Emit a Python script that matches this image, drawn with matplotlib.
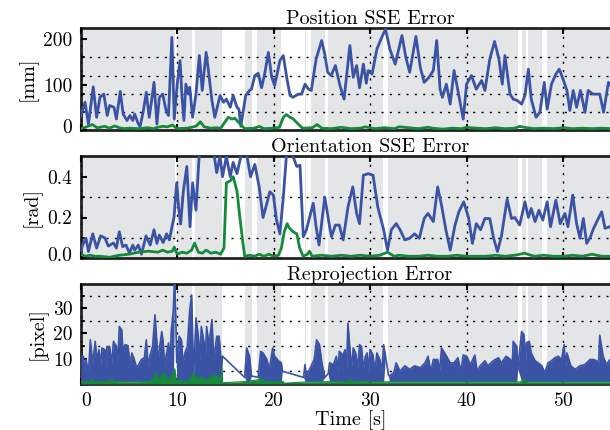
import matplotlib.pyplot as plt
from matplotlib.ticker import NullFormatter
from matplotlib.transforms import ScaledTranslation

plt.rcParams['font.family'] = 'cmr10'
plt.rcParams['mathtext.fontset'] = 'cm'
plt.rcParams['axes.formatter.use_mathtext'] = True

# ---- data ----
# tracked intervals shown as grey bands [s]
tracked = [(0.0, 9.77), (9.95, 11.5), (11.84, 14.6), (17.0, 17.8), (18.3, 20.8),
           (23.25, 23.4), (23.9, 25.3), (25.65, 31.36), (31.9, 45.3), (45.7, 46.2),
           (46.4, 47.8), (48.3, 56.0)]

# Position SSE error [mm]  (t, value)
pos_blue = [(0.0, 30), (0.45, 61), (0.8, 13), (1.3, 95), (1.65, 28), (2.0, 72), (2.4, 79),
            (2.75, 32), (3.0, 54), (3.45, 50), (3.7, 24), (4.1, 85), (4.4, 35), (4.8, 21),
            (5.1, 32), (5.4, 21), (5.6, 35), (5.9, 17), (6.15, 7), (6.5, 43), (6.8, 83),
            (7.1, 28), (7.35, 65), (7.6, 105), (7.9, 13), (8.15, 72), (8.5, 79), (8.85, 43),
            (9.1, 32), (9.45, 204), (9.7, 24), (10.0, 101), (10.3, 153), (10.5, 72),
            (10.7, 21), (10.9, 101), (11.15, 79), (11.3, 94), (11.6, 28), (11.95, 79),
            (12.3, 164), (12.6, 87), (13.0, 171), (13.2, 138), (13.6, 65), (13.9, 28),
            (14.45, 76), (14.8, 61), (15.1, 68), (15.5, 50), (15.8, 76), (16.2, 50),
            (16.4, 46), (16.6, 8), (17.1, 76), (17.5, 87), (17.7, 90), (18.05, 120),
            (18.4, 125), (18.75, 93), (19.1, 127), (19.45, 171), (19.8, 116), (20.1, 98),
            (20.65, 153), (21.0, 164), (21.35, 116), (21.7, 76), (22.0, 72), (22.55, 79),
            (22.9, 79), (23.25, 101), (23.6, 90), (23.9, 87), (24.4, 156), (24.97, 197),
            (25.3, 167), (25.6, 127), (25.96, 120), (26.4, 142), (26.87, 98), (27.3, 68),
            (27.9, 186), (28.25, 116), (28.6, 142), (28.9, 93), (29.3, 145), (29.6, 103),
            (29.8, 131), (30.2, 123), (30.7, 178), (31.2, 204), (31.6, 222), (32.05, 178),
            (32.6, 145), (33.3, 208), (33.7, 160), (34.1, 127), (34.75, 206), (35.2, 138),
            (35.6, 105), (36.1, 116), (36.55, 131), (36.9, 197), (37.25, 90), (37.5, 72),
            (37.9, 101), (38.3, 57), (38.7, 131), (39.1, 87), (39.65, 24), (40.0, 101),
            (40.5, 120), (41.0, 90), (41.55, 109), (41.9, 87), (42.4, 156), (42.9, 195),
            (43.35, 156), (43.7, 101), (43.97, 164), (44.5, 79), (44.83, 68), (45.25, 65),
            (45.7, 57), (46.05, 76), (46.4, 134), (46.7, 68), (47.2, 28), (47.6, 39),
            (48.05, 105), (48.35, 46), (48.8, 101), (49.25, 123), (49.6, 134), (50.0, 112),
            (50.4, 87), (50.7, 43), (51.05, 87), (51.4, 50), (51.8, 87), (52.27, 39),
            (52.6, 87), (53.1, 79), (53.8, 79), (54.2, 39), (54.7, 105), (55.2, 90), (55.9, 80)]
pos_green = [(0, 3), (0.5, 6), (1.2, 12), (1.7, 5), (2.5, 8), (3.0, 4), (3.5, 9), (4.0, 5),
             (4.5, 3), (5.0, 4), (6.0, 3), (7.0, 5), (7.5, 3), (8.0, 6), (8.5, 8), (9.0, 7),
             (9.5, 11), (10.0, 3), (11.0, 4), (11.5, 6), (12.0, 9), (12.4, 18), (12.8, 7),
             (13.5, 4), (14.0, 5), (14.5, 4), (14.9, 16), (15.3, 28), (15.7, 24), (16.0, 26),
             (16.3, 18), (16.6, 12), (17.0, 3), (18.0, 4), (18.5, 8), (19.0, 3), (20.0, 4),
             (20.6, 6), (21.0, 28), (21.3, 34), (21.7, 28), (22.0, 25), (22.5, 14), (23.0, 4),
             (24.0, 5), (24.5, 12), (25.0, 4), (26.0, 3), (27.0, 6), (28.0, 3), (29.0, 4),
             (29.5, 7), (30.5, 3), (31.5, 5), (32.5, 3), (33.0, 7), (34.0, 5), (35.0, 3),
             (36.0, 6), (36.5, 4), (37.5, 2), (38.5, 4), (39.5, 3), (40.0, 6), (41.0, 4),
             (42.0, 3), (43.0, 5), (44.0, 3), (45.0, 4), (45.5, 8), (46.2, 5), (47.0, 3),
             (48.0, 4), (49.0, 3), (50.0, 5), (51.0, 3), (52.0, 4), (53.0, 3), (54.0, 4),
             (55.0, 3), (55.9, 4)]

# Orientation SSE error [rad]
ori_blue = [(0.0, 0.03), (0.2, 0.065), (0.55, 0.098), (0.8, 0.033), (1.25, 0.12), (1.65, 0.05),
            (2.07, 0.11), (2.5, 0.10), (2.87, 0.06), (3.4, 0.075), (3.7, 0.05), (4.0, 0.13),
            (4.35, 0.057), (4.7, 0.065), (5.05, 0.025), (5.4, 0.065), (5.6, 0.04), (5.97, 0.065),
            (6.3, 0.02), (6.77, 0.11), (7.2, 0.065), (7.6, 0.14), (7.9, 0.073), (8.15, 0.114),
            (8.55, 0.077), (8.9, 0.12), (9.2, 0.09), (9.4, 0.14), (9.67, 0.2), (9.95, 0.37),
            (10.15, 0.25), (10.36, 0.168), (10.64, 0.33), (11.0, 0.45), (11.33, 0.155),
            (11.6, 0.37), (11.95, 0.236), (12.3, 0.52), (12.64, 0.51), (13.06, 0.55),
            (13.75, 0.53), (14.1, 0.42), (14.44, 0.5), (14.7, 0.4), (15.1, 0.5), (15.5, 0.4),
            (15.8, 0.47), (16.2, 0.415), (16.7, 0.52), (17.2, 0.51), (17.6, 0.4), (18.05, 0.46),
            (18.5, 0.35), (18.9, 0.2), (19.3, 0.27), (19.6, 0.326), (19.97, 0.31), (20.3, 0.187),
            (20.65, 0.12), (21.0, 0.3), (21.35, 0.52), (21.7, 0.53), (22.0, 0.5), (22.4, 0.45),
            (22.73, 0.456), (23.07, 0.106), (23.4, 0.14), (24.1, 0.27), (24.4, 0.155),
            (24.7, 0.065), (25.3, 0.3), (25.8, 0.155), (26.0, 0.106), (26.4, 0.163),
            (26.8, 0.163), (27.2, 0.09), (27.7, 0.25), (28.2, 0.35), (28.6, 0.22), (28.9, 0.17),
            (29.3, 0.407), (29.8, 0.415), (30.3, 0.407), (30.8, 0.25), (31.4, 0.14), (31.8, 0.04),
            (32.2, 0.14), (32.7, 0.17), (33.1, 0.14), (33.6, 0.09), (34.1, 0.098), (34.6, 0.12),
            (35.1, 0.098), (35.6, 0.195), (36.0, 0.22), (36.55, 0.18), (37.0, 0.35), (37.4, 0.26),
            (37.85, 0.14), (38.3, 0.04), (38.8, 0.163), (39.2, 0.228), (39.7, 0.277), (40.2, 0.2),
            (40.6, 0.073), (41.0, 0.17), (41.45, 0.14), (41.9, 0.195), (42.4, 0.195),
            (42.8, 0.098), (43.2, 0.033), (43.6, 0.106), (44.2, 0.29), (44.65, 0.195),
            (45.0, 0.2), (45.5, 0.163), (46.05, 0.277), (46.4, 0.2), (46.7, 0.244), (47.1, 0.18),
            (47.5, 0.236), (47.9, 0.187), (48.35, 0.277), (48.7, 0.155), (49.25, 0.285),
            (49.7, 0.17), (50.2, 0.22), (50.5, 0.155), (51.0, 0.31), (51.4, 0.17), (51.75, 0.098),
            (52.1, 0.195), (52.45, 0.073), (52.85, 0.106), (53.1, 0.14), (53.5, 0.18),
            (54.0, 0.228), (54.35, 0.147), (54.85, 0.155), (55.9, 0.2)]
ori_green = [(0, 0.02), (0.5, 0.01), (1, 0.015), (1.5, 0.01), (2, 0.01), (3, 0.005), (4, 0.015),
             (5, 0.02), (6, 0.03), (7, 0.035), (8, 0.03), (8.5, 0.04), (9, 0.03), (9.5, 0.035),
             (9.7, 0.055), (10, 0.02), (10.5, 0.03), (11, 0.025), (11.5, 0.04), (11.8, 0.075),
             (12.2, 0.03), (12.6, 0.025), (13, 0.04), (13.5, 0.025), (14, 0.03), (14.5, 0.02),
             (14.85, 0.05), (15.1, 0.37), (15.5, 0.38), (15.8, 0.40), (16.2, 0.33), (16.5, 0.2),
             (16.8, 0.08), (17.0, 0.01), (17.5, 0.015), (18, 0.01), (18.5, 0.02), (19, 0.01),
             (19.5, 0.02), (20, 0.01), (20.5, 0.015), (20.8, 0.05), (21.1, 0.13), (21.4, 0.17),
             (21.6, 0.15), (22.0, 0.13), (22.4, 0.12), (22.7, 0.05), (23.05, 0.01), (23.5, 0.02),
             (23.7, 0.035), (24, 0.01), (25, 0.015), (26, 0.01), (27, 0.015), (28, 0.01),
             (29, 0.015), (30, 0.01), (31, 0.015), (31.8, 0.03), (32.5, 0.01), (33, 0.015),
             (34, 0.01), (35, 0.01), (36, 0.015), (37, 0.01), (38, 0.01), (39, 0.015), (40, 0.01),
             (41, 0.01), (42, 0.01), (43, 0.015), (44, 0.01), (45, 0.015), (46, 0.025), (47, 0.01),
             (48, 0.015), (49, 0.01), (50, 0.01), (51, 0.015), (52, 0.01), (53, 0.02), (54, 0.01),
             (55, 0.01), (55.9, 0.01)]

# Reprojection error [pixel]: (t, upper envelope, filled?)  -- unfilled = lost track, plain line
rep_blue = [(0.0, 11, 1), (0.28, 11, 1), (0.4, 5, 1), (0.55, 9.7, 1), (0.8, 4.5, 1), (1.0, 17.5, 1),
            (1.25, 8, 1), (1.5, 16.9, 1), (1.7, 9.7, 1), (1.9, 13.6, 1), (2.05, 7, 1), (2.2, 14.3, 1),
            (2.5, 13.6, 1), (2.6, 6, 1), (2.7, 14.3, 1), (3.0, 14.9, 1), (3.2, 8, 1), (3.4, 16.9, 1),
            (3.7, 14.9, 1), (3.85, 9, 1), (4.0, 22.8, 1), (4.25, 21.5, 1), (4.4, 12, 1),
            (4.6, 15.6, 1), (4.9, 15.2, 1), (5.1, 8, 1), (5.3, 12.3, 1), (5.5, 10.4, 1),
            (5.8, 6.4, 1), (6.3, 9.7, 1), (6.6, 10.4, 1), (6.8, 17.5, 1), (7.0, 7, 1), (7.2, 11.5, 1),
            (7.45, 14.9, 1), (7.7, 27.4, 1), (7.9, 16.3, 1), (8.0, 8, 1), (8.15, 13.6, 1),
            (8.4, 20.8, 1), (8.55, 16.9, 1), (8.7, 7, 1), (8.85, 11, 1), (9.1, 16.3, 1),
            (9.25, 9, 1), (9.4, 21.5, 1), (9.6, 29.4, 1),
            (9.75, 45, 0), (9.95, 8.4, 1), (10.2, 18.9, 1), (10.45, 17.5, 1), (10.6, 8, 1),
            (10.8, 12.3, 1), (11.05, 14.9, 1), (11.3, 29.4, 1), (11.5, 35.3, 1), (11.7, 3.2, 1),
            (11.95, 26.2, 1), (12.2, 18.9, 1), (12.35, 9, 1), (12.5, 22.8, 1), (12.8, 16.3, 1),
            (12.9, 8, 1), (13.05, 22.8, 1), (13.3, 15.6, 1), (13.6, 25.5, 1), (13.8, 9.7, 1),
            (14.1, 18.9, 1), (14.35, 18.9, 1), (14.6, 7, 1),
            (14.7, 11, 0), (17.0, 2.6, 0), (17.2, 14.3, 1), (17.5, 11, 1), (17.7, 3.2, 0),
            (18.4, 2.6, 0), (18.65, 12.9, 1), (18.9, 12.3, 1), (19.3, 9.7, 1), (19.55, 5.8, 1),
            (19.9, 14.3, 1), (20.1, 11, 1), (20.5, 9.2, 1), (20.8, 8.4, 1), (20.9, 5.1, 0),
            (23.1, 2.6, 0), (23.25, 7.7, 1), (23.4, 3.2, 1), (23.9, 7.2, 1), (24.2, 9.7, 1),
            (24.45, 17.5, 1), (24.75, 15.6, 1), (25.0, 8.4, 1), (25.3, 2.6, 0), (25.65, 4, 0),
            (25.8, 8.4, 1), (26.2, 7.7, 1), (26.5, 11, 1), (26.65, 5, 1), (26.8, 12.9, 1),
            (27.2, 11.5, 1), (27.4, 13.6, 1), (27.55, 6, 1), (27.7, 24.1, 1), (27.9, 14.3, 1),
            (28.05, 6, 1), (28.25, 14.3, 1), (28.5, 12.3, 1), (28.7, 6, 1), (28.9, 15.6, 1),
            (29.1, 14.9, 1), (29.3, 6, 1), (29.5, 11, 1), (29.7, 12.3, 1), (29.85, 5, 1),
            (30.0, 13.6, 1), (30.3, 11.5, 1), (30.5, 5, 1), (30.7, 12.3, 1), (31.0, 9.7, 1),
            (31.2, 5, 1), (31.4, 15.6, 1), (31.6, 11, 0),
            (31.9, 3.5, 0), (32.0, 3.2, 1), (32.45, 4.5, 1), (32.7, 8.4, 1), (33.1, 5.1, 1),
            (33.6, 7.2, 1), (34.1, 5.8, 1), (34.6, 7.2, 1), (35.2, 6.4, 1), (35.7, 8.4, 1),
            (36.0, 11, 1), (36.3, 5, 1), (36.55, 9.7, 1), (37.0, 9.7, 1), (37.2, 5, 1),
            (37.4, 14.3, 1), (37.85, 11.5, 1), (38.3, 8.4, 1), (38.7, 8.4, 1), (39.1, 10.4, 1),
            (39.4, 5, 1), (39.65, 11.5, 1), (40.0, 11, 1), (40.4, 7.7, 1), (40.85, 11.5, 1),
            (41.1, 5, 1), (41.4, 7.2, 1), (41.9, 9.2, 1), (42.2, 7.2, 1), (42.75, 9.2, 1),
            (43.3, 10.4, 1), (43.6, 8.4, 1), (44.1, 11, 1), (44.55, 9.7, 1), (44.7, 5, 1),
            (44.83, 16.9, 1), (45.2, 14.9, 1), (45.3, 6, 0), (45.7, 20.8, 1), (45.95, 19.5, 1),
            (46.1, 8, 1), (46.2, 16.3, 1), (46.5, 16.9, 1), (46.7, 12.3, 1), (47.1, 9.2, 1),
            (47.4, 8.4, 1), (47.8, 7.2, 1), (48.1, 4.5, 1), (48.45, 8.4, 1), (48.8, 9.2, 1),
            (49.15, 10.4, 1), (49.5, 11, 1), (49.85, 9.7, 1), (50.1, 15.6, 1), (50.25, 7, 1),
            (50.4, 12.3, 1), (50.8, 7.2, 1), (51.25, 5.8, 1), (51.75, 7.2, 1), (52.25, 7.7, 1),
            (52.8, 9.7, 1), (53.1, 9.7, 1), (53.5, 9.2, 1), (53.65, 5, 1), (53.8, 19.3, 1),
            (54.15, 11, 1), (54.5, 7.7, 1), (54.85, 9.7, 1), (55.9, 8, 1)]
rep_floor = 1.0
rep_green = [(0, 1), (1, 1), (1.2, 2), (1.4, 1), (3, 1), (3.2, 2), (3.4, 1), (5, 0.8), (7, 1),
             (7.5, 2), (7.8, 4.5), (8.1, 1.5), (8.6, 4.5), (8.9, 3), (9.2, 1.5), (9.6, 5),
             (9.75, 6), (9.9, 1.5), (11, 1), (11.5, 3), (11.65, 4.5), (12, 2), (12.5, 3), (13, 1.5),
             (13.5, 3), (14.0, 3.5), (14.5, 1.5), (14.65, 6), (14.7, 0.5), (17.2, 1), (18.8, 2),
             (19.2, 1), (21, 1), (21.1, 0.3), (23.3, 0.8), (27.7, 1), (27.9, 2), (28.1, 1),
             (33, 0.8), (45.5, 0.8), (46, 1.8), (46.3, 0.8), (55.9, 0.8)]

titles = ['Position SSE Error', 'Orientation SSE Error', 'Reprojection Error']
ylabels = ['[mm]', '[rad]', '[pixel]']
ylims = [(0, 224), (0, 0.5), (0, 39.6)]
yticks = [[0, 100, 200], [0.0, 0.2, 0.4], [10, 20, 30]]
ytick_labels = [['0', '100', '200'], ['0.0', '0.2', '0.4'], ['10', '20', '30']]
ygrid = [[40, 80, 120, 160, 200], [0.1, 0.2, 0.3, 0.4], [5, 10, 15, 20, 25, 30, 35]]
xticks = [0, 10, 20, 30, 40, 50]

BLUE = '#3a53a4'
GREEN = '#148a3a'
GREY = '#e4e5e7'
FS = 14.5

fig = plt.figure(figsize=(6.1, 4.3), dpi=100)
W = (620 - 80.7) / 610
rects = [[80.7 / 610, 1 - 130 / 430, W, 101.7 / 430],
         [80.7 / 610, 1 - 258.3 / 430, W, 102.0 / 430],
         [80.7 / 610, 1 - 384 / 430, W, 100.0 / 430]]
axes = [fig.add_axes(r) for r in rects]
nudge_up = ScaledTranslation(0, 4 / 100, fig.dpi_scale_trans)


def split(pairs):
    return [p[0] for p in pairs], [p[1] for p in pairs]


for i, ax in enumerate(axes):
    for a, b in tracked:
        ax.axvspan(a, b, color=GREY, lw=0, zorder=0)
    ax.set_xlim(0, 55.9)
    ax.set_ylim(*ylims[i])
    ax.set_xticks(xticks)
    ax.set_yticks(yticks[i])
    ax.set_yticklabels(ytick_labels[i])
    ax.set_yticks(ygrid[i], minor=True)
    ax.yaxis.set_minor_formatter(NullFormatter())
    ax.grid(axis='x', which='major', color='k', ls=(0, (1.5, 4.5)), lw=1.0, zorder=1)
    ax.grid(axis='y', which='minor', color='k', ls=(0, (1.5, 4.5)), lw=1.0, zorder=1)
    ax.set_axisbelow(False)
    ax.tick_params(direction='in', top=True, right=True, length=4, width=1.5,
                   labelsize=14, pad=6)
    ax.tick_params(which='minor', direction='in', left=True, right=True, length=3, width=1.2)
    for s in ax.spines.values():
        s.set_linewidth(2)
        s.set_color('#222222')
    ax.set_title(titles[i], fontsize=FS, x=0.5365, pad=3)
    ax.set_ylabel(ylabels[i], fontsize=FS, labelpad=4)
    if i < 2:
        ax.set_xticklabels([])
        lab0 = ax.get_yticklabels()[0]
        lab0.set_transform(lab0.get_transform() + nudge_up)

# position
t, v = split(pos_blue)
axes[0].plot(t, v, color=BLUE, lw=2.0, zorder=3)
t, v = split(pos_green)
axes[0].plot(t, v, color=GREEN, lw=2.0, zorder=4)

# orientation
t, v = split(ori_blue)
axes[1].plot(t, v, color=BLUE, lw=2.0, zorder=3)
t, v = split(ori_green)
axes[1].plot(t, v, color=GREEN, lw=2.0, zorder=4)

# reprojection
t = [p[0] for p in rep_blue]
hi = [p[1] for p in rep_blue]
lo = [rep_floor if p[2] else p[1] for p in rep_blue]
axes[2].fill_between(t, lo, hi, color=BLUE, lw=0, zorder=3)
axes[2].plot(t, hi, color=BLUE, lw=1.2, zorder=3)
t, v = split(rep_green)
axes[2].fill_between(t, 0, v, color=GREEN, lw=0, zorder=4)
axes[2].plot(t, v, color=GREEN, lw=0.8, zorder=4)
axes[2].set_xlabel('Time [s]', fontsize=FS, labelpad=0)
axes[2].get_xticklabels()[0].set_ha('left')

fig.savefig('out.png', dpi=100)
